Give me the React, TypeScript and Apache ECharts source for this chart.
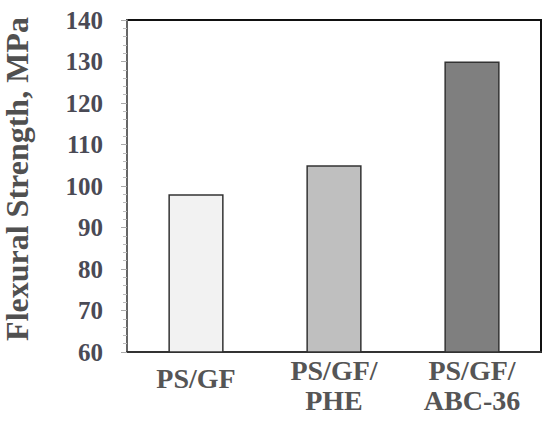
import React, { useEffect, useRef } from "react";
import * as echarts from "echarts";

const categories = ["PS/GF", "PS/GF/\nPHE", "PS/GF/\nABC-36"];
const values = [98, 105, 130];
const barColors = ["#f2f2f2", "#bfbfbf", "#7f7f7f"];
const yTicks = { min: 60, max: 140, interval: 10 };

export default function App() {
  const ref = useRef<HTMLDivElement>(null);
  useEffect(() => {
    if (!ref.current) return;
    const chart = echarts.init(ref.current, undefined, { renderer: "svg" });
    const font = "'Liberation Serif', 'Times New Roman', serif";
    chart.setOption({
      animation: false,
      backgroundColor: "#ffffff",
      grid: {
        left: 127,
        right: 9,
        top: 20,
        bottom: 83,
        show: true,
        borderColor: "#111",
        borderWidth: 2,
        containLabel: false,
        outerBoundsMode: "none",
      },
      xAxis: {
        type: "category",
        data: categories,
        axisLine: { lineStyle: { color: "#333", width: 2 } },
        axisTick: { show: false },
        axisLabel: {
          interval: 0,
          hideOverlap: false,
          fontFamily: font,
          fontWeight: "bold",
          fontSize: 28,
          color: "#555",
          margin: 3,
          lineHeight: 30,
          formatter: (v: string) => (v.indexOf("\n") < 0 ? "{one|" + v + "}" : v),
          rich: {
            one: {
              fontFamily: font,
              fontWeight: "bold",
              fontSize: 28,
              color: "#555",
              lineHeight: 30,
              padding: [16, 0, 0, 0],
            },
          },
        },
      },
      yAxis: {
        type: "value",
        min: yTicks.min,
        max: yTicks.max,
        interval: yTicks.interval,
        name: "Flexural Strength, MPa",
        nameLocation: "middle",
        nameGap: 94,
        nameTextStyle: {
          fontFamily: font,
          fontWeight: "bold",
          fontSize: 32,
          color: "#505050",
          padding: [0, 0, 0, 14],
        },
        splitLine: { show: false },
        axisLine: { show: true, lineStyle: { color: "#666", width: 2 } },
        axisTick: { show: true, length: 6, lineStyle: { color: "#aaa" } },
        minorTick: { show: true, splitNumber: 5, length: 4, lineStyle: { color: "#bbb" } },
        axisLabel: {
          fontFamily: font,
          fontWeight: "bold",
          fontSize: 25,
          color: "#4a4a55",
          margin: 24,
        },
      },
      series: [
        {
          type: "bar",
          barWidth: "40%",
          data: values.map((v, i) => ({
            value: v,
            itemStyle: { color: barColors[i], borderColor: "#333", borderWidth: 1.5 },
          })),
        },
      ],
    });
    return () => chart.dispose();
  }, []);
  return (
    <div
      ref={ref}
      style={{ position: "fixed", left: 0, top: 0, width: 550, height: 435 }}
    />
  );
}
